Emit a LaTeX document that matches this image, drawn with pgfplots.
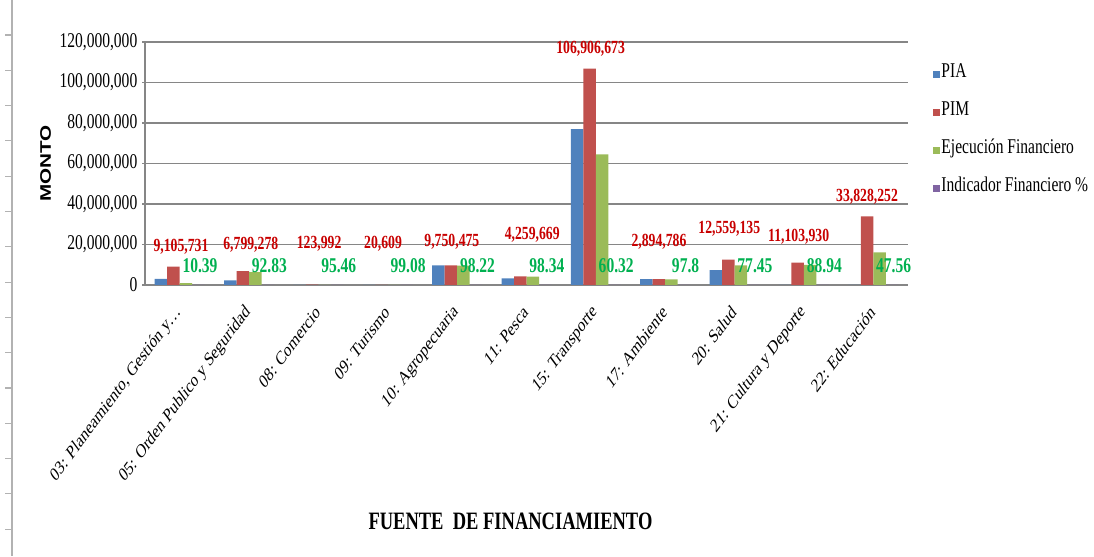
\documentclass[border=0pt]{standalone}
\usepackage{fontspec}
\setmainfont[FakeStretch=0.74]{Liberation Serif}
\newfontfamily\plainserif{Liberation Serif}
\newfontfamily\plainsans{Liberation Sans}
\usepackage{pgfplots}
\usepackage{pgfplotstable}
\pgfplotsset{compat=1.18}
\definecolor{cPIA}{HTML}{4F81BD}
\definecolor{cPIM}{HTML}{C0504D}
\definecolor{cEJE}{HTML}{9BBB59}
\definecolor{cIND}{HTML}{8064A2}
\definecolor{labred}{RGB}{200,0,0}
\definecolor{labgreen}{RGB}{0,176,80}
\definecolor{gridgray}{RGB}{134,134,134}

\pgfplotstableread{
x pia pim ejec ind pimlab indlab yoff xoff
0 3000000 9105731 946085 10.39 9,105,731 10.39 21.6 7.5
1 2300000 6799278 6311770 92.83 6,799,278 92.83 28 8
2 110000 123992 118363 95.46 123,992 95.46 42.7 7
3 18000 20609 20419 99.08 20,609 99.08 43 1.5
4 9700000 9750475 9576917 98.22 9,750,475 98.22 25 1
5 3300000 4259669 4188958 98.34 4,259,669 98.34 43 12
6 77000000 106906673 64486105 60.32 106,906,673 60.32 21.5 1
7 2850000 2894786 2831101 97.8 2,894,786 97.8 39 0
8 7400000 12559135 9727050 77.45 12,559,135 77.45 32.6 1
9 0 11103930 9875836 88.94 11,103,930 88.94 27.5 1
10 0 33828252 16088717 47.56 33,828,252 47.56 21.5 0
}\datatable

\begin{document}
\begin{tikzpicture}[x=0.75pt,y=0.75pt]
% ruler artifact at the left edge
\draw[line width=1.2pt, black!30] (12,0) -- (12,556);
\foreach \k in {0,...,14} {
  \draw[line width=0.8pt, black!30] (5,{556-(35+\k*35.3)}) -- (12,{556-(35+\k*35.3)});
}
\begin{axis}[
  at={(108.75pt,203.25pt)}, anchor=south west,
  scale only axis, width=572.25pt, height=182.25pt,
  xmin=-0.5, xmax=10.5, ymin=0, ymax=120000000,
  scaled y ticks=false,
  ybar=0pt, bar width=9.375pt,
  axis x line*=bottom, axis y line*=left,
  axis line style={-, gridgray, line width=1.1pt},
  ymajorgrids, grid style={gridgray, line width=1.1pt},
  xtick={0,...,10},
  xticklabels={{03: Planeamiento, Gestión y…},{05: Orden Publico y Seguridad},{08: Comercio},{09: Turismo},{10: Agropecuaria},{11: Pesca},{15: Transporte},{17: Ambiente},{20: Salud},{21: Cultura y Deporte},{22: Educación}},
  xtick style={draw=none},
  xticklabel style={font=\plainserif\fontsize{14.5}{17}\selectfont, anchor=east, xscale=0.74, rotate=45, inner sep=1pt},
  xticklabel shift=15pt,
  ytick={0,20000000,40000000,60000000,80000000,100000000,120000000},
  yticklabels={0,{20,000,000},{40,000,000},{60,000,000},{80,000,000},{100,000,000},{120,000,000}},
  yticklabel style={font=\fontsize{15.75}{18}\selectfont},
  ytick style={gridgray, line width=1.1pt},
  tick align=outside, major tick length=2.25pt,
  every axis y label/.style={at={(axis description cs:-0.1304,0.5)}, anchor=center, xscale=0.74, rotate=90, font=\plainsans\bfseries\fontsize{15.5}{18}\selectfont},
  ylabel={MONTO},
  every axis x label/.style={at={(axis description cs:0.479,-0.971)}, anchor=center, font=\bfseries\fontsize{18.75}{22}\selectfont},
  xlabel={FUENTE\ \ DE FINANCIAMIENTO},
  legend style={at={(axis description cs:1.033,0.90)}, anchor=north west, draw=none, fill=none, inner sep=0pt,
    font=\fontsize{15.75}{18}\selectfont, row sep=16.5pt,
    nodes={inner sep=1pt, text height=0.75em, text depth=0.25em}},
  legend cell align=left,
  legend image code/.code={\fill[#1] (0pt,-2.4pt) rectangle (5pt,2.8pt);},
  clip=false,
]
\addplot[fill=cPIA, draw=none] table[x=x, y=pia] {\datatable};
\addplot[fill=cPIM, draw=none,
  point meta=explicit symbolic,
  visualization depends on={\thisrow{yoff} \as \labyoff},
  visualization depends on={\thisrow{xoff} \as \labxoff},
  nodes near coords,
  nodes near coords style={font=\bfseries\fontsize{13.9}{16}\selectfont, text=labred, anchor=south, inner sep=0pt, text height=0.68em, text depth=0pt, yshift={\labyoff*0.75pt-4.75pt}, xshift={\labxoff*0.75pt}}]
  table[x=x, y=pim, meta=pimlab] {\datatable};
\addplot[fill=cEJE, draw=none] table[x=x, y=ejec] {\datatable};
\addplot[fill=cIND, draw=none,
  point meta=explicit symbolic,
  nodes near coords,
  nodes near coords style={font=\bfseries\fontsize{15.75}{18}\selectfont, text=labgreen, anchor=south, inner sep=0pt, text height=0.68em, text depth=0pt, yshift=8.9pt, xshift=1.2pt}]
  table[x=x, y=ind, meta=indlab] {\datatable};
\legend{PIA, PIM, Ejecución Financiero, Indicador Financiero \%}
\end{axis}
\pgfresetboundingbox
\path[use as bounding box] (0,0) rectangle (1094,556);
\end{tikzpicture}
\end{document}
